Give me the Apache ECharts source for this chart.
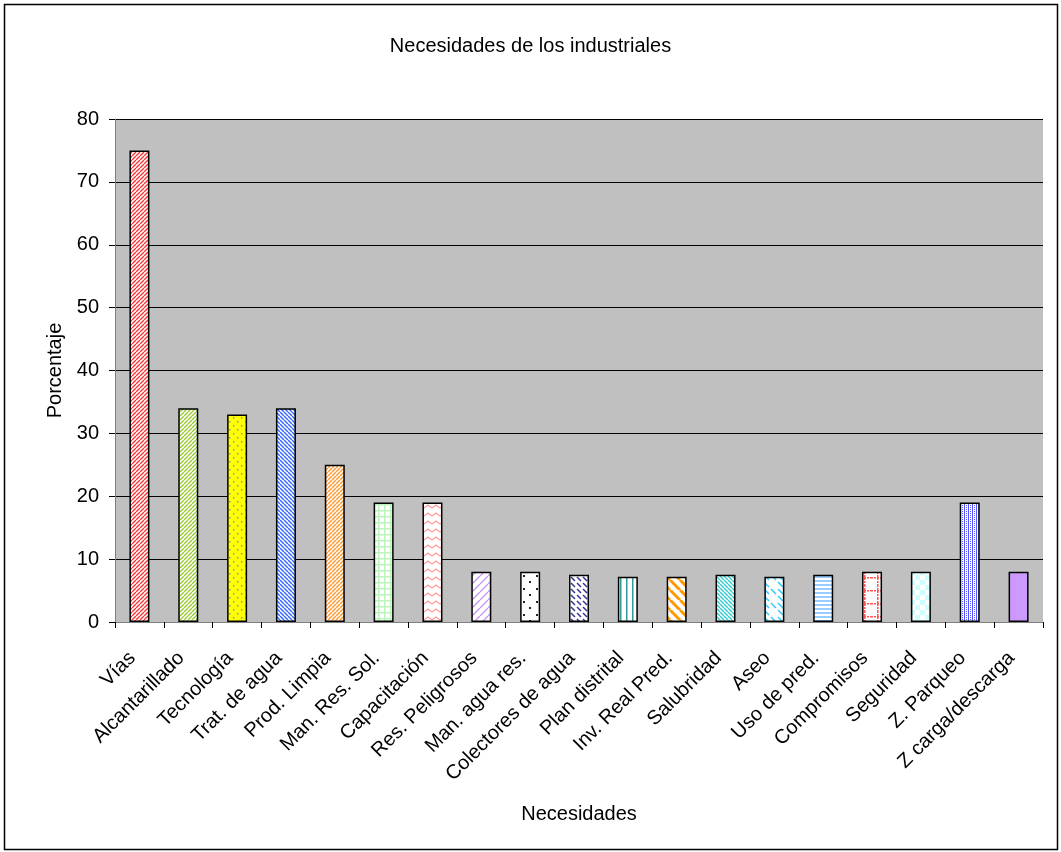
<!DOCTYPE html>
<html><head><meta charset="utf-8">
<script src="https://cdn.jsdelivr.net/npm/echarts@6/dist/echarts.min.js"></script>
<style>html,body{margin:0;padding:0;background:#fff}#c{width:1061px;height:852px}</style>
</head><body><div id="c"></div>
<script>
const categories = ['Vías','Alcantarillado','Tecnología','Trat. de agua','Prod. Limpia','Man. Res. Sol.','Capacitación','Res. Peligrosos','Man. agua res.','Colectores de agua','Plan distrital','Inv. Real Pred.','Salubridad','Aseo','Uso de pred.','Compromisos','Seguridad','Z. Parqueo','Z carga/descarga'];
const values = [75, 34, 33, 34, 25, 19, 19, 8, 8, 7.5, 7.2, 7.2, 7.5, 7.2, 7.5, 8, 8, 19, 8];
const yTicks = [0, 10, 20, 30, 40, 50, 60, 70, 80];

function pat(size, bg, draw) {
  const c = document.createElement('canvas');
  c.width = size; c.height = size;
  const g = c.getContext('2d');
  g.fillStyle = bg; g.fillRect(0, 0, size, size);
  draw(g, size);
  return { image: c, repeat: 'repeat' };
}
function diag(color, size, w, up) {
  return pat(size, '#fff', (g, s) => {
    g.strokeStyle = color; g.lineWidth = w;
    for (let k = -1; k <= 1; k++) {
      g.beginPath();
      if (up) { g.moveTo(k * s, s); g.lineTo(k * s + s, 0); }
      else { g.moveTo(k * s, 0); g.lineTo(k * s + s, s); }
      g.stroke();
    }
  });
}
const patterns = [
  diag('#FF3333', 4, 1.3, true),
  diag('#99CC33', 4, 1.3, true),
  pat(8, '#FFFF00', (g) => { g.fillStyle = '#7799BB'; g.fillRect(1, 1, 1.5, 1.5); g.fillRect(5, 5, 1.5, 1.5); }),
  diag('#3366FF', 4, 1.4, false),
  diag('#FF9933', 4, 1.5, true),
  pat(6, '#fff', (g, s) => { g.fillStyle = '#BBF5BB'; g.fillRect(0, 0, s, 1.5); g.fillRect(0, 0, 1.5, s); }),
  pat(8, '#fff', (g) => { g.strokeStyle = '#FF9999'; g.lineWidth = 1.2; g.beginPath(); g.moveTo(0, 4); g.lineTo(4, 1); g.lineTo(8, 4); g.stroke(); }),
  diag('#CC99FF', 8, 1.5, true),
  pat(13, '#fff', (g) => { g.fillStyle = '#222'; g.fillRect(3, 3, 2, 2); g.fillRect(9, 9, 2, 2); }),
  pat(12, '#fff', (g) => { g.strokeStyle = '#333399'; g.lineWidth = 1.5; g.beginPath(); g.moveTo(1, 1); g.lineTo(5, 5); g.moveTo(7, 1); g.lineTo(11, 5); g.moveTo(1, 7); g.lineTo(5, 11); g.moveTo(7, 7); g.lineTo(11, 11); g.stroke(); }),
  pat(6, '#fff', (g) => { g.fillStyle = '#339999'; g.fillRect(2, 0, 1.5, 6); }),
  diag('#FF9900', 10, 3, false),
  diag('#33CCCC', 4, 1.4, false),
  pat(14, '#fff', (g) => { g.strokeStyle = '#33CCFF'; g.lineWidth = 1.5; g.beginPath(); g.moveTo(1, 1); g.lineTo(6, 6); g.moveTo(8, 8); g.lineTo(13, 13); g.moveTo(8, 1); g.lineTo(13, 6); g.stroke(); }),
  pat(4, '#fff', (g) => { g.fillStyle = '#99CCFF'; g.fillRect(0, 0, 4, 2); }),
  pat(13, '#fff', (g) => { g.fillStyle = '#FF5555'; for (let i = 0; i < 13; i += 3) { g.fillRect(i, 5, 2, 1.5); g.fillRect(6, i, 1.5, 2); } }),
  pat(10, '#fff', (g) => { g.fillStyle = '#CCFFFF'; g.fillRect(0, 0, 5, 5); g.fillRect(5, 5, 5, 5); }),
  pat(4, '#fff', (g) => { g.fillStyle = '#5555FF'; g.fillRect(0, 0, 1, 4); g.fillRect(2, 1, 1, 1); g.fillRect(2, 3, 1, 1); }),
  '#CC99FF'
];

const chart = echarts.init(document.getElementById('c'), null, { renderer: 'canvas' });
const font = 'Liberation Sans, Arial, sans-serif';
chart.setOption({
  animation: false,
  backgroundColor: '#fff',
  textStyle: { fontFamily: font },
  title: { text: 'Necesidades de los industriales', left: 'center', top: 31,
    textStyle: { fontSize: 20, fontWeight: 'normal', color: '#000', fontFamily: font } },
  graphic: [{ type: 'rect', shape: { x: 4.5, y: 4.5, width: 1053, height: 845 }, style: { fill: null, stroke: '#000', lineWidth: 1.5 }, silent: true, z: 100 }],
  grid: { left: 115, right: 18, top: 119, bottom: 230, show: true, backgroundColor: '#C0C0C0', borderWidth: 0 },
  xAxis: {
    type: 'category', data: categories,
    name: 'Necesidades', nameLocation: 'middle', nameGap: 182,
    nameTextStyle: { fontSize: 20, color: '#000', fontFamily: font },
    axisLine: { lineStyle: { color: '#808080', width: 1 } },
    axisTick: { show: true, alignWithLabel: false, length: 6, lineStyle: { color: '#000' } },
    axisLabel: { rotate: 45, fontSize: 20, color: '#000', margin: 26, padding: [0, 10, 0, 0], interval: 0, fontFamily: font }
  },
  yAxis: {
    type: 'value', min: yTicks[0], max: yTicks[yTicks.length - 1], interval: 10,
    name: 'Porcentaje', nameLocation: 'middle', nameGap: 49,
    nameTextStyle: { fontSize: 20, color: '#000', fontFamily: font },
    axisLine: { show: true, lineStyle: { color: '#808080' } },
    axisTick: { show: true, length: 6, lineStyle: { color: '#000' } },
    axisLabel: { fontSize: 20, color: '#000', margin: 16, fontFamily: font },
    splitLine: { lineStyle: { color: '#000', width: 1 } }
  },
  series: [{
    type: 'bar', barWidth: 20,
    data: values.map((v, i) => ({ value: v, itemStyle: { color: patterns[i] } })),
    itemStyle: { borderColor: '#000', borderWidth: 1.5 }
  }]
});
</script></body></html>
